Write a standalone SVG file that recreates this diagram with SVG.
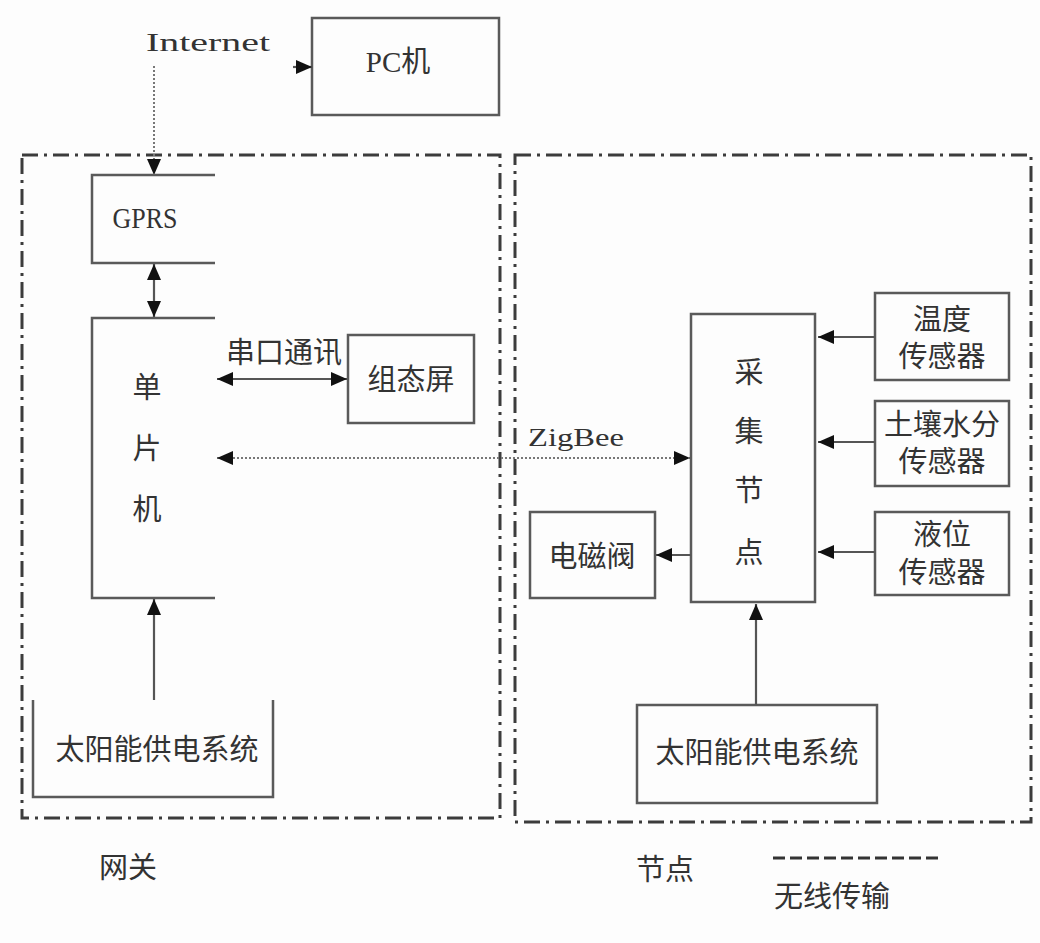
<svg xmlns="http://www.w3.org/2000/svg" width="1040" height="943" viewBox="0 0 1040 943">
<style>
.box{fill:none;stroke:#5a5a5a;stroke-width:2.5}
.zone{fill:none;stroke:#3c3c3c;stroke-width:3;stroke-dasharray:16 6 3 6}
.t{font-family:"Liberation Serif","Noto Sans CJK SC",serif;font-size:29px;fill:#333;text-anchor:middle;dominant-baseline:central}
.lt{font-family:"Liberation Serif","Noto Sans CJK SC",serif;font-size:26px;fill:#333;text-anchor:middle;dominant-baseline:central}
.ln{fill:none;stroke:#555;stroke-width:2.2}
.dot{fill:none;stroke:#777;stroke-width:2;stroke-dasharray:2 2}
</style>
<defs>
<marker id="ah" markerUnits="userSpaceOnUse" markerWidth="16" markerHeight="14" refX="16" refY="7" orient="auto-start-reverse">
<path d="M0,0 L16,7 L0,14 z" fill="#111"/>
</marker>
</defs>
<rect width="1040" height="943" fill="#fdfdfd"/>
<g id="zone-gateway"><rect class="zone" x="22" y="155" width="478" height="663"/><text class="t" x="128" y="868">网关</text></g>
<g id="zone-node"><rect class="zone" x="515" y="155" width="516" height="667"/><text class="t" x="665" y="870">节点</text></g>
<g id="legend"><line x1="773" y1="858" x2="943" y2="858" stroke="#333" stroke-width="3" stroke-dasharray="12 5"/><text class="t" x="832" y="897">无线传输</text></g>
<g id="pc"><rect class="box" x="312" y="18" width="187" height="97"/><text class="t" x="398" y="62">PC机</text></g>
<g id="internet-label"><text class="lt" x="208" y="42" textLength="124" lengthAdjust="spacingAndGlyphs">Internet</text></g>
<g id="gprs"><path class="box" d="M215,175 H92 V263 H215"/><text class="lt" x="145" y="218" style="font-size:29px" textLength="65" lengthAdjust="spacingAndGlyphs">GPRS</text></g>
<g id="mcu"><path class="box" d="M215,318 H92 V598 H215"/><text class="t" x="147" y="388">单</text><text class="t" x="147" y="449">片</text><text class="t" x="147" y="510">机</text></g>
<g id="screen"><rect class="box" x="348" y="335" width="126" height="88"/><text class="t" x="411" y="380">组态屏</text></g>
<g id="solar-gw"><path class="box" d="M33,700 V797 H273 V700"/><text class="t" x="157" y="750">太阳能供电系统</text></g>
<g id="collector"><rect class="box" x="691" y="314" width="124" height="288"/><text class="t" x="749" y="373">采</text><text class="t" x="749" y="432">集</text><text class="t" x="749" y="491">节</text><text class="t" x="749" y="553">点</text></g>
<g id="sensor-temp"><rect class="box" x="875" y="293" width="134" height="87"/><text class="t" x="942" y="320">温度</text><text class="t" x="942" y="357">传感器</text></g>
<g id="sensor-soil"><rect class="box" x="875" y="401" width="134" height="85"/><text class="t" x="942" y="425">土壤水分</text><text class="t" x="942" y="462">传感器</text></g>
<g id="sensor-level"><rect class="box" x="875" y="512" width="134" height="83"/><text class="t" x="942" y="535">液位</text><text class="t" x="942" y="573">传感器</text></g>
<g id="valve"><rect class="box" x="530" y="512" width="125" height="86"/><text class="t" x="592" y="557">电磁阀</text></g>
<g id="solar-node"><rect class="box" x="637" y="705" width="240" height="98"/><text class="t" x="757" y="753">太阳能供电系统</text></g>
<g id="connectors">
<line class="dot" x1="154" y1="66" x2="154" y2="175" marker-end="url(#ah)"/>
<line class="ln" x1="293" y1="67" x2="312" y2="67" marker-end="url(#ah)"/>
<line class="ln" x1="154" y1="264" x2="154" y2="317" marker-start="url(#ah)" marker-end="url(#ah)"/>
<line class="ln" x1="217" y1="379" x2="347" y2="379" marker-start="url(#ah)" marker-end="url(#ah)"/>
<line class="dot" x1="217" y1="458" x2="690" y2="458" marker-start="url(#ah)" marker-end="url(#ah)"/>
<line class="ln" x1="154" y1="700" x2="154" y2="599" marker-end="url(#ah)"/>
<line class="ln" x1="875" y1="337" x2="818" y2="337" marker-end="url(#ah)"/>
<line class="ln" x1="875" y1="442" x2="818" y2="442" marker-end="url(#ah)"/>
<line class="ln" x1="875" y1="552" x2="818" y2="552" marker-end="url(#ah)"/>
<line class="ln" x1="691" y1="555" x2="656" y2="555" marker-end="url(#ah)"/>
<line class="ln" x1="756" y1="705" x2="756" y2="604" marker-end="url(#ah)"/>
</g>
<g id="labels">
<text class="t" x="284" y="353">串口通讯</text>
<text class="lt" x="576" y="437" textLength="96" lengthAdjust="spacingAndGlyphs">ZigBee</text>
</g>
</svg>
